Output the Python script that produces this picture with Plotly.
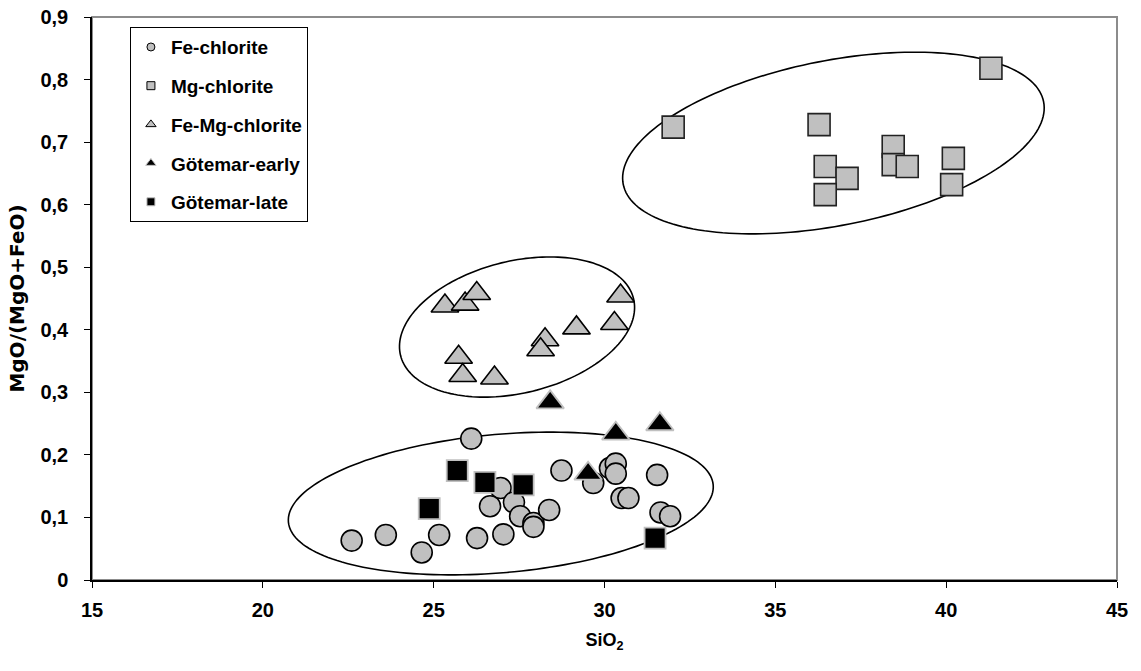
import numpy as np
import plotly.graph_objects as go

# ---------------- data ----------------
fe_x = [22.6, 23.6, 24.65, 25.16, 26.1, 26.27, 27.04, 26.96, 26.65, 27.35, 27.53, 27.92,
        27.92, 28.38, 28.74, 29.67, 30.16, 30.33, 30.33, 30.5, 30.7, 31.54, 31.64, 31.92]
fe_y = [0.063, 0.072, 0.044, 0.072, 0.226, 0.067, 0.073, 0.147, 0.118, 0.124, 0.102, 0.091,
        0.085, 0.112, 0.175, 0.155, 0.179, 0.186, 0.170, 0.131, 0.131, 0.168, 0.108, 0.102]

mg_x = [41.31, 32.01, 36.28, 38.45, 38.45, 38.86, 40.21, 40.16, 36.46, 37.10, 36.46]
mg_y = [0.818, 0.724, 0.728, 0.693, 0.664, 0.661, 0.674, 0.632, 0.661, 0.642, 0.616]

femg_x = [25.33, 25.92, 26.26, 30.47, 30.29, 29.18, 28.26, 28.13, 25.73, 25.85, 26.78]
femg_y = [0.438, 0.441, 0.458, 0.454, 0.410, 0.403, 0.384, 0.368, 0.356, 0.327, 0.323]

early_x = [28.41, 30.33, 31.62, 29.52]
early_y = [0.284, 0.234, 0.249, 0.170]

late_x = [25.69, 24.87, 26.50, 27.62, 31.48]
late_y = [0.175, 0.114, 0.156, 0.152, 0.067]

x_ticks = [15, 20, 25, 30, 35, 40, 45]
y_ticks = [0, 0.1, 0.2, 0.3, 0.4, 0.5, 0.6, 0.7, 0.8, 0.9]

# grouping ellipses (annotation outlines): centre (data), semi-axes (px), tilt (deg)
ellipse_cx = [26.965, 27.44, 36.70]
ellipse_cy = [0.1223, 0.4044, 0.6985]
ellipse_a = [213.2, 119.9, 214.2]
ellipse_b = [69.2, 66.0, 82.5]
ellipse_ang = [5.0, 13.65, 11.1]

# ---------------- layout geometry ----------------
W, H = 1141, 671
ML, MR, MT, MB = 92, 24, 17, 91
XR = [15, 45]
YR = [0, 0.9]
pw = W - ML - MR
ph = H - MT - MB
sx = pw / (XR[1] - XR[0])
sy = ph / (YR[1] - YR[0])

FONT = "Liberation Sans, Arial, sans-serif"
WIDE = "DejaVu Sans, Verdana, sans-serif"
GRAY = "#C0C0C0"

fig = go.Figure()


def add(name, x, y, symbol, size, fill, edge, ew):
    fig.add_trace(go.Scatter(
        x=x, y=y, mode="markers", name=name, showlegend=False,
        marker=dict(symbol=symbol, size=size, color=fill,
                    line=dict(color=edge, width=ew)),
        cliponaxis=False))


add("Fe-chlorite", fe_x, fe_y, "circle", 21, GRAY, "black", 1.6)
add("Mg-chlorite", mg_x, mg_y, "square", 22, GRAY, "#222222", 1.6)
add("Fe-Mg-chlorite", femg_x, femg_y, "triangle-up", 24, GRAY, "black", 1.6)
add("Götemar-early", early_x, early_y, "triangle-up", 24, "black", GRAY, 1.8)
add("Götemar-late", late_x, late_y, "square", 21, "black", GRAY, 1.8)

# legend entries (small symbols like the reference legend)
leg = [("Fe-chlorite", "circle", 8, GRAY, "black"),
       ("Mg-chlorite", "square", 8, GRAY, "black"),
       ("Fe-Mg-chlorite", "triangle-up", 9, GRAY, "black"),
       ("Götemar-early", "triangle-up", 9, "black", GRAY),
       ("Götemar-late", "square", 8, "black", GRAY)]
for i, (nm, sym, sz, fc, ec) in enumerate(leg):
    fig.add_trace(go.Scatter(
        x=[None], y=[None], mode="markers", name=nm, legendgroup="g%d" % i,
        marker=dict(symbol=sym, size=sz, color=fc, line=dict(color=ec, width=1))))

# ellipses
shapes = []
t = np.linspace(0, 2 * np.pi, 181)
for cx, cy, a, b, ang in zip(ellipse_cx, ellipse_cy, ellipse_a, ellipse_b, ellipse_ang):
    th = np.deg2rad(ang)
    dx = a * np.cos(t) * np.cos(th) - b * np.sin(t) * np.sin(th)
    dy = a * np.cos(t) * np.sin(th) + b * np.sin(t) * np.cos(th)
    xs = cx + dx / sx
    ys = cy + dy / sy
    path = "M " + " L ".join("%.4f,%.5f" % (u, v) for u, v in zip(xs, ys)) + " Z"
    shapes.append(dict(type="path", path=path, xref="x", yref="y",
                       line=dict(color="black", width=1.6), layer="below"))

# grey frame (top/right)
shapes.append(dict(type="rect", xref="paper", yref="paper", x0=0, x1=1, y0=0, y1=1,
                   line=dict(color="#8c8c8c", width=2), layer="below"))

fig.update_layout(
    width=W, height=H,
    margin=dict(l=ML, r=MR, t=MT, b=MB, autoexpand=False),
    paper_bgcolor="white", plot_bgcolor="white",
    separators=",.",
    font=dict(family=FONT, size=15, color="black", weight="bold"),
    shapes=shapes,
    showlegend=True,
    legend=dict(x=0.037, y=0.982, xanchor="left", yanchor="top",
                bgcolor="white", bordercolor="black", borderwidth=1,
                font=dict(family=FONT, size=19, color="black", weight="bold"),
                tracegroupgap=11, itemwidth=30),
)

fig.update_xaxes(range=XR, tickvals=x_ticks, showgrid=False, zeroline=False,
                 automargin=False,
                 showline=True, linecolor="black", linewidth=1.5,
                 ticks="outside", ticklen=6, tickcolor="black", tickwidth=1,
                 ticklabelstandoff=5,
                 tickfont=dict(family=FONT, size=20, weight="bold"),
                 title=dict(text="SiO<sub>2</sub>", standoff=14,
                            font=dict(family=FONT, size=18, weight="bold")))
fig.update_yaxes(range=YR, tickvals=y_ticks, tickformat="~g", showgrid=False, zeroline=False,
                 automargin=False,
                 showline=True, linecolor="black", linewidth=1.5,
                 ticks="outside", ticklen=6, tickcolor="black", tickwidth=1,
                 ticklabelstandoff=12,
                 tickfont=dict(family=FONT, size=20, weight="bold"),
                 title=dict(text="MgO/(MgO+FeO)", standoff=10,
                            font=dict(family=WIDE, size=20, weight="bold")))

fig.write_html("out.html", config={"displayModeBar": False},
               post_script="document.body.style.margin='0px';")
